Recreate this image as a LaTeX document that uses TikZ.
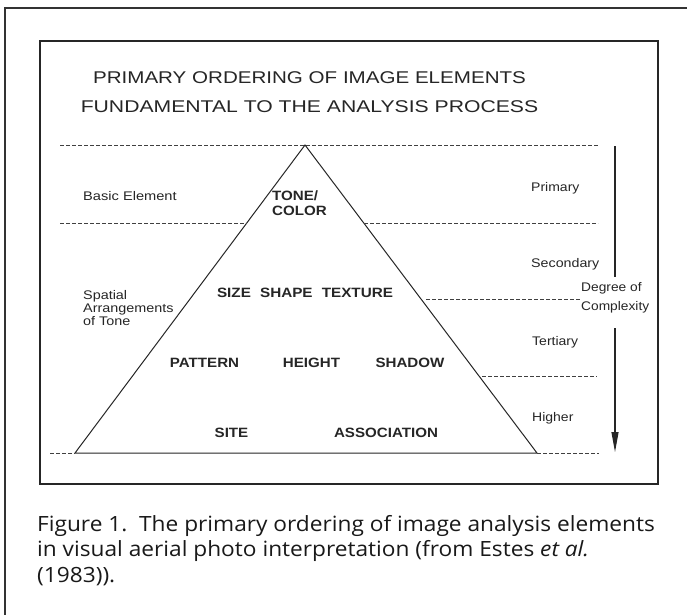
\documentclass[tikz,border=0pt]{standalone}
\usepackage{fontspec}
\usepackage{graphicx}
\setmainfont{Liberation Sans}
\newfontfamily\capfont{Open Sans}
\usetikzlibrary{arrows.meta}

% horizontally widened lettering of the figure
\newcommand{\wide}[2][1.15]{\scalebox{#1}[1]{#2}}

\tikzset{
  frameline/.style={draw=black!80, line width=1.3pt},
  boxline/.style={draw=black!85, line width=1.2pt},
  edge/.style={draw=black!85, line width=1pt},
  level/.style={draw=black!75, line width=0.7pt, dash pattern=on 3.5pt off 2.5pt},
  title/.style={font=\fontsize{17}{20}\selectfont, text=black!85, inner sep=0pt},
  side/.style={font=\fontsize{12.5}{12.7}\selectfont, text=black!85, inner sep=0pt, anchor=west, align=left},
  elem/.style={font=\bfseries\fontsize{13.5}{15}\selectfont, text=black!85, inner sep=0pt},
  caption/.style={font=\capfont\fontsize{21}{24}\selectfont, text=black!90, inner sep=0pt, anchor=base west}
}

\begin{document}
\begin{tikzpicture}[x=1pt,y=-1pt]
\useasboundingbox (0,0) rectangle (687,614);
\fill[white] (0,0) rectangle (687,614);

% outer frame (left and top edges)
\coordinate (ftl) at (5,8);
\coordinate (ftr) at (690,8);
\coordinate (fbl) at (5,618);
\draw[frameline] (fbl) -- (ftl) -- (ftr);

% inner figure box
\coordinate (btl) at (40,41);
\coordinate (bbr) at (658,484);
\draw[boxline] (btl) rectangle (bbr);

% heading
\node[title] (t1) at (309.5,78) {\wide[1.21]{PRIMARY ORDERING OF IMAGE ELEMENTS}};
\node[title] (t2) at (309.5,107) {\wide[1.245]{FUNDAMENTAL TO THE ANALYSIS PROCESS}};

% pyramid
\coordinate (apex) at (305,145);
\coordinate (bl) at (75,453);
\coordinate (br) at (537,453);
\draw[edge, line join=miter] (bl) -- (apex) -- (br) -- cycle;

% level boundaries
\coordinate (l0a) at (60,145);   \coordinate (l0b) at (599,145);
\coordinate (l1a) at (60,223);   \coordinate (l1b) at (247,223);
\coordinate (l1c) at (364,223);  \coordinate (l1d) at (598,223);
\coordinate (l2a) at (426,299);  \coordinate (l2b) at (580,299);
\coordinate (l3a) at (482,376);  \coordinate (l3b) at (597,376);
\coordinate (l4a) at (50,453);   \coordinate (l4c) at (599,453);
\draw[level] (l0a) -- (l0b);
\draw[level] (l1a) -- (l1b);
\draw[level] (l1c) -- (l1d);
\draw[level] (l2a) -- (l2b);
\draw[level] (l3a) -- (l3b);
\draw[level] (l4a) -- (bl);
\draw[level] (br) -- (l4c);

% left-hand labels
\node[side] (basic) at (83,196) {\wide[1.17]{Basic Element}};
\node[side] (spatial) at (83,308) {\wide{Spatial}\\\wide{Arrangements}\\\wide{of Tone}};

% right-hand labels
\node[side] (prim) at (531,188) {\wide[1.12]{Primary}};
\node[side] (sec) at (531,264) {\wide[1.14]{Secondary}};
\node[side] (ter) at (532,342) {\wide[1.12]{Tertiary}};
\node[side] (hig) at (532,418) {\wide[1.12]{Higher}};
\node[side, font=\fontsize{12.5}{19}\selectfont] (deg) at (581,297.5) {\wide[1.1]{Degree of}\\\wide[1.1]{Complexity}};

% complexity arrow, broken by its label
\coordinate (atop) at (615,146);
\coordinate (agap1) at (615,277);
\coordinate (agap2) at (615,328);
\coordinate (abot) at (615,452);
\draw[edge, line width=1.1pt] (atop) -- (agap1);
\draw[edge, line width=1.1pt, -{Triangle[length=20pt,width=7pt]}] (agap2) -- (abot);

% image elements
\node[elem, anchor=west, align=left] (tone) at (272,203) {\wide[1.12]{TONE/}\\\wide[1.12]{COLOR}};
\node[elem] (sst) at (305,293) {\wide[1.13]{SIZE\hspace{0.6em}SHAPE\hspace{0.6em}TEXTURE}};
\node[elem] (pat) at (204.5,363) {\wide[1.12]{PATTERN}};
\node[elem] (hgt) at (311.5,363) {\wide[1.12]{HEIGHT}};
\node[elem] (shd) at (410,363) {\wide[1.12]{SHADOW}};
\node[elem] (site) at (231.5,433) {\wide[1.12]{SITE}};
\node[elem] (assoc) at (386,433) {\wide[1.12]{ASSOCIATION}};

% caption
\node[caption] (c1) at (37,531) {\wide[1.08]{Figure 1.\ \ The primary ordering of image analysis elements}};
\node[caption] (c2) at (37,556.5) {\wide[1.08]{in visual aerial photo interpretation (from Estes \textit{et al.}}};
\node[caption] (c3) at (37,582) {\wide[1.08]{(1983)).}};
\end{tikzpicture}
\end{document}
